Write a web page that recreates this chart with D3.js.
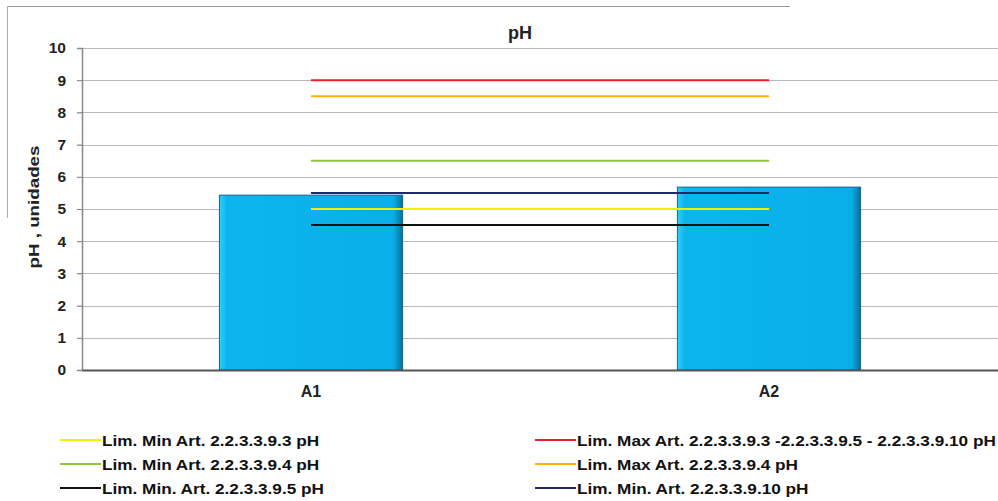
<!DOCTYPE html>
<html><head><meta charset="utf-8">
<script src="https://cdn.jsdelivr.net/npm/d3@7"></script>
<style>body{margin:0;background:#fff;}svg{display:block;font-family:"Liberation Sans",Arial,sans-serif;}</style>
</head><body><svg id="c" width="998" height="501"></svg>
<script>
const categories = ["A1", "A2"];
const phValues = [5.43, 5.68];
const yTicks = [0,1,2,3,4,5,6,7,8,9,10];
const limitNames = [
  "Lim. Min Art. 2.2.3.3.9.3 pH",
  "Lim. Min Art. 2.2.3.3.9.4 pH",
  "Lim. Min. Art. 2.2.3.3.9.5 pH",
  "Lim. Max Art. 2.2.3.3.9.3 -2.2.3.3.9.5 - 2.2.3.3.9.10 pH",
  "Lim. Max Art. 2.2.3.3.9.4 pH",
  "Lim. Min. Art. 2.2.3.3.9.10 pH"
];
const limitValues = [5, 6.5, 4.5, 9, 8.5, 5.5];
const limitColors = ["#f2f200", "#8cc63f", "#111111", "#ee1c25", "#ffb300", "#1f2a6b"];

(function(){
const svg = d3.select("#c");
const pL = 82, pR = 998, pT = 48, pB = 370;
const x = d3.scaleBand().domain(categories).range([pL, pR]);
const y = d3.scaleLinear().domain([0, 10]).range([pB, pT]);

// frame artifacts
svg.append("line").attr("x1",7).attr("x2",790).attr("y1",6.5).attr("y2",6.5).attr("stroke","#999").attr("stroke-width",1);
svg.append("line").attr("x1",7.5).attr("x2",7.5).attr("y1",6).attr("y2",218).attr("stroke","#aaa").attr("stroke-width",1);

// gridlines
svg.append("g").selectAll("line").data(yTicks.filter(d=>d>0)).join("line")
  .attr("x1", pL-5).attr("x2", pR).attr("y1", d=>Math.round(y(d))+0.5).attr("y2", d=>Math.round(y(d))+0.5)
  .attr("stroke", "#b8b8b8").attr("stroke-width", 1.2);

// y axis
const yAxis = svg.append("g").attr("transform", `translate(${pL},0)`)
  .call(d3.axisLeft(y).tickValues(yTicks).tickSize(5).tickPadding(11));
yAxis.select(".domain").attr("stroke", "#888").attr("stroke-width", 1.5);
yAxis.selectAll(".tick line").attr("stroke", "#888");
yAxis.selectAll("text").attr("font-size", 15.5).attr("font-weight", "bold").attr("fill", "#222")
  .attr("font-family", "'Liberation Sans', Arial, sans-serif");

// bars
const bw = x.bandwidth()*0.4;
const grad = svg.append("defs").append("linearGradient").attr("id","bg").attr("x1","0").attr("x2","1");
grad.append("stop").attr("offset","0").attr("stop-color","#2fd0f5");
grad.append("stop").attr("offset","0.04").attr("stop-color","#0bb6ee");
grad.append("stop").attr("offset","0.95").attr("stop-color","#0aaee8");
grad.append("stop").attr("offset","1").attr("stop-color","#0a6f9c");
svg.append("g").selectAll("rect").data(categories).join("rect")
  .attr("x", d => x(d) + x.bandwidth()/2 - bw/2)
  .attr("y", (d,i) => y(phValues[i]))
  .attr("width", bw)
  .attr("height", (d,i) => pB - y(phValues[i]))
  .attr("fill", "url(#bg)").attr("stroke", "#13658c").attr("stroke-width", 1);

// x axis
const xAxis = svg.append("g").attr("transform", `translate(0,${pB})`)
  .call(d3.axisBottom(x).tickSize(0).tickPadding(16));
xAxis.select(".domain").attr("stroke", "#555").attr("stroke-width", 2);
xAxis.selectAll("text").attr("font-size", 16).attr("font-weight", "bold").attr("fill", "#222")
  .attr("font-family", "'Liberation Sans', Arial, sans-serif");

// limit lines
const x1 = x(categories[0]) + x.bandwidth()/2, x2 = x(categories[1]) + x.bandwidth()/2;
svg.append("g").selectAll("line").data(limitValues).join("line")
  .attr("x1", x1).attr("x2", x2).attr("y1", d=>y(d)).attr("y2", d=>y(d))
  .attr("stroke", (d,i)=>limitColors[i]).attr("stroke-width", 2);

// title
svg.append("text").attr("x", 520).attr("y", 39).attr("text-anchor","middle")
  .attr("font-size", 18).attr("font-weight","bold").attr("fill","#222").text("pH");
// y label
svg.append("text").attr("transform","translate(39,207) rotate(-90) scale(1.25,1)").attr("text-anchor","middle")
  .attr("font-size", 15).attr("font-weight","bold").attr("fill","#222").text("pH , unidades");

// legend
const lg = svg.append("g");
limitNames.forEach((n,i)=>{
  const col = Math.floor(i/3), row = i%3;
  const lx = col===0 ? 60 : 535, ly = 440 + row*24;
  lg.append("line").attr("x1",lx).attr("x2",lx+41).attr("y1",ly).attr("y2",ly)
    .attr("stroke",limitColors[i]).attr("stroke-width",2);
  lg.append("text").attr("transform",`translate(${lx+42},${ly+6}) scale(1.11,1)`)
    .attr("font-size",15.5).attr("font-weight","bold")
    .attr("fill","#111").text(n);
});
})();
</script></body></html>
